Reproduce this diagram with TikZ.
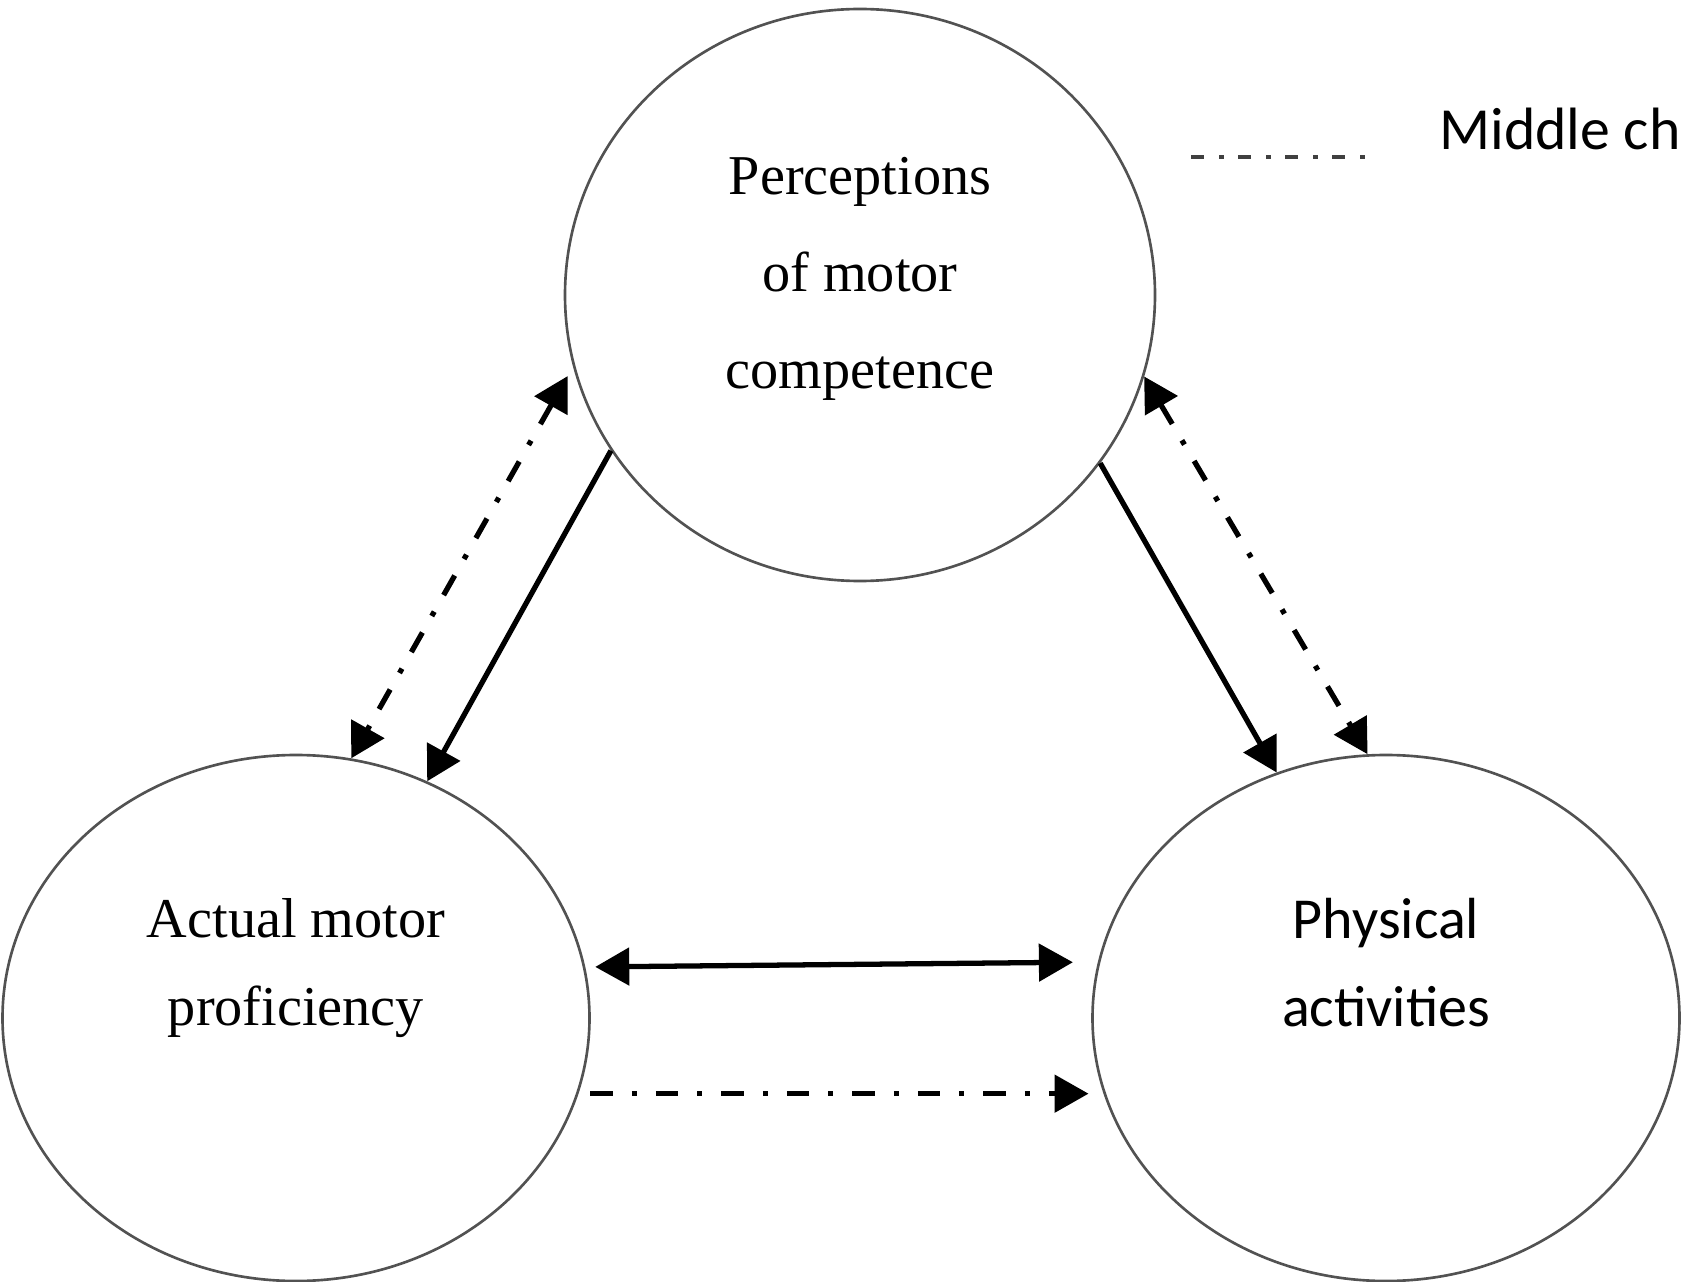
\documentclass[tikz,border=0pt]{standalone}
\usepackage{fontspec}
\setmainfont{Liberation Serif}
\newfontfamily\calib{Carlito}
\usetikzlibrary{arrows.meta,shapes.geometric}
\begin{document}
\begin{tikzpicture}[
  bubble/.style={draw=black!68, line width=1.5pt, ellipse, inner sep=0pt},
  lbl/.style={align=center, inner sep=0pt},
  tip/.tip={Triangle[length=0.68cm,width=0.74cm]},
  solidarr/.style={line width=3pt, -tip},
  dashdot/.style={line width=3pt, dash pattern=on 0.45cm off 0.38cm on 0.1cm off 0.38cm},
  legendline/.style={line width=2.2pt, black!75, dash pattern=on 0.26cm off 0.3cm on 0.1cm off 0.28cm},
]
\useasboundingbox (0,0) rectangle (33.62,-25.64);

% ellipses
\node[bubble, minimum width=11.8cm, minimum height=11.44cm] (pmc) at (17.2,-5.9) {};
\node[bubble, minimum width=11.74cm, minimum height=10.52cm] (amp) at (5.92,-20.36) {};
\node[bubble, minimum width=11.74cm, minimum height=10.52cm] (pa) at (27.72,-20.36) {};

% labels
\node[lbl, font=\fontsize{32}{55}\selectfont] (pmct) at (17.2,-5.58) {Perceptions\\of motor\\competence};
\node[lbl, font=\fontsize{32}{50}\selectfont] (ampt) at (5.92,-19.36) {Actual motor\\proficiency};
\node[lbl, font=\calib\fontsize{33}{50}\selectfont] (pat) at (27.72,-19.26) {Physical\\activities};

% legend
\coordinate (legA) at (23.82,-3.14);
\coordinate (legB) at (27.46,-3.14);
\draw[legendline] (legA) -- (legB);
\begin{scope}
\clip (0,0) rectangle (33.62,-25.64);
\node[anchor=base west, inner sep=0pt, font=\calib\fontsize{34}{40}\selectfont] (legt) at (28.78,-3.0) {Middle childhood};
\end{scope}

% left pair
\draw[dashdot, tip-tip, shorten <=0.22cm] (pmc.194.2) -- (amp.78.5);
\draw[solidarr] (pmc.212.3) -- (amp.61.8);

% right pair
\draw[solidarr] (pmc.325.6) -- (pa.114);
\draw[dashdot, tip-tip] (pmc.344.7) -- (pa.94.6);

% horizontal
\draw[line width=3pt, tip-tip, shorten <=0.2cm, shorten >=0.5cm] (amp.10.4) -- (pa.169.6);
\draw[dashdot, -tip, shorten <=0.24cm, shorten >=0.3cm] (amp.-15.1) -- (pa.195.1);
\end{tikzpicture}
\end{document}
